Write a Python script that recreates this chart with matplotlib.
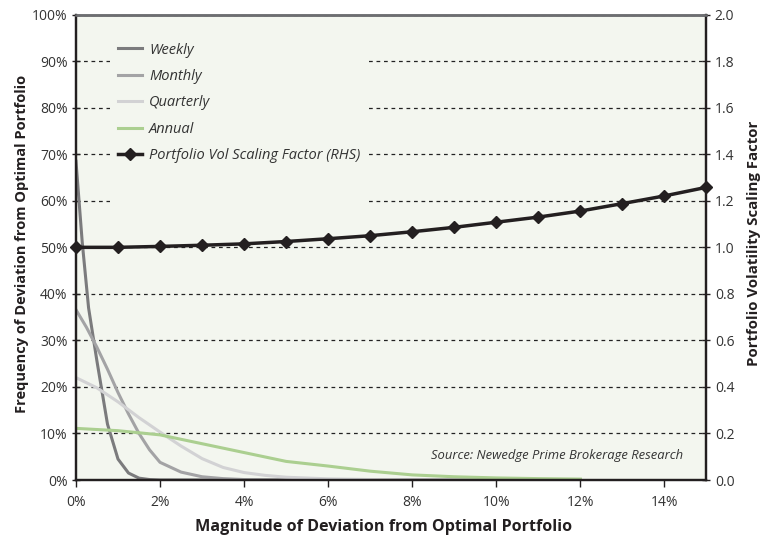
import matplotlib
matplotlib.use("Agg")
import matplotlib.pyplot as plt
from matplotlib.patches import Rectangle
from matplotlib.ticker import FuncFormatter, MultipleLocator

plt.rcParams['font.family'] = ['Open Sans', 'DejaVu Sans']

# frequency curves (x in %, y in %)
weekly_x = [0, 0.15, 0.3, 0.5, 0.75, 1.0, 1.25, 1.5, 1.75, 2, 12]
weekly_y = [68.5, 51, 37, 25.5, 12, 4.5, 1.5, 0.4, 0.1, 0, 0]

monthly_x = [0, 0.25, 0.5, 0.75, 1.0, 1.25, 1.5, 1.75, 2.0, 2.5, 3.0, 3.5, 4, 5, 12]
monthly_y = [36.6, 32.8, 28.5, 23.8, 18.8, 14.2, 10.0, 6.5, 3.8, 1.7, 0.7, 0.3, 0.1, 0, 0]

quarterly_x = [0, 0.5, 1, 1.5, 2, 2.5, 3, 3.5, 4, 4.5, 5, 6, 7, 8, 12]
quarterly_y = [22, 19.8, 16.8, 13.4, 10.3, 7.3, 4.6, 2.7, 1.6, 1.0, 0.6, 0.25, 0.1, 0.03, 0]

annual_x = [0, 1, 2, 3, 4, 5, 6, 7, 8, 9, 10, 11, 12]
annual_y = [11.1, 10.6, 9.7, 7.8, 5.9, 4.0, 3.0, 1.9, 1.1, 0.7, 0.45, 0.3, 0.2]

# portfolio vol scaling factor (RHS)
vol_x = list(range(16))
vol_y = [1.0, 1.0, 1.004, 1.009, 1.015, 1.025, 1.037, 1.050, 1.067, 1.086,
         1.108, 1.130, 1.156, 1.188, 1.221, 1.258]

bg = '#f3f6ef'
txt = '#333333'

fig = plt.figure(figsize=(7.65, 5.43), dpi=100)
ax = fig.add_axes([0.0993, 0.116, 0.8242, 0.857])
ax.set_facecolor(bg)
ax.set_axisbelow(True)

ax.plot(weekly_x, weekly_y, color='#7b7b7d', lw=2.2, label='Weekly', zorder=2)
ax.plot(monthly_x, monthly_y, color='#a3a3a5', lw=2.2, label='Monthly', zorder=2)
ax.plot(quarterly_x, quarterly_y, color='#d2d2d4', lw=2.2, label='Quarterly', zorder=2)
ax.plot(annual_x, annual_y, color='#abcf90', lw=2.2, label='Annual', zorder=2)

ax.set_xlim(0, 15)
ax.set_ylim(0, 100)
ax.xaxis.set_major_locator(MultipleLocator(2))
ax.yaxis.set_major_locator(MultipleLocator(10))
ax.xaxis.set_major_formatter(FuncFormatter(lambda v, p: '%d%%' % v))
ax.yaxis.set_major_formatter(FuncFormatter(lambda v, p: '%d%%' % v))
ax.grid(axis='y', linestyle=(0, (3, 3)), color='#222222', lw=0.9)

# blank area behind the legend hides the gridlines
ax.add_patch(Rectangle((0.054, 0.58), 0.409, 0.39, transform=ax.transAxes,
                       facecolor=bg, edgecolor='none', zorder=1))

ax2 = ax.twinx()
ax2.plot(vol_x, vol_y, color='#231f20', lw=2.5, marker='D', ms=6,
         label='Portfolio Vol Scaling Factor (RHS)', clip_on=False, zorder=5)
ax2.set_ylim(0, 2.0)
ax2.yaxis.set_major_locator(MultipleLocator(0.2))
ax2.yaxis.set_major_formatter(FuncFormatter(lambda v, p: '%.1f' % v))

for a in (ax, ax2):
    for s in ('left', 'right', 'bottom'):
        a.spines[s].set_color('#231f20')
        a.spines[s].set_linewidth(1.6)
    a.spines['top'].set_color('#6d6e71')
    a.spines['top'].set_linewidth(1.8)
    a.tick_params(direction='inout', length=6, width=1.0, colors='#231f20',
                  labelcolor=txt, labelsize=10)
ax.tick_params(axis='x', direction='out', length=5, pad=6)
ax.tick_params(axis='y', pad=3)
ax2.tick_params(axis='y', pad=3)

h1, l1 = ax.get_legend_handles_labels()
h2, l2 = ax2.get_legend_handles_labels()
leg = ax2.legend(h1 + h2, l1 + l2, loc='upper left', bbox_to_anchor=(0.05, 0.962),
                 frameon=False, handlelength=1.7, handletextpad=0.45,
                 labelspacing=0.78, borderpad=0.2,
                 prop={'style': 'italic', 'size': 10.5})
for t in leg.get_texts():
    t.set_color(txt)

ax2.text(0.963, 0.052, 'Source: Newedge Prime Brokerage Research', transform=ax2.transAxes,
         ha='right', va='center', style='italic', fontsize=9.4, color=txt)

fig.text(0.502, 0.03, 'Magnitude of Deviation from Optimal Portfolio', ha='center',
         va='center', fontsize=11.6, fontweight='bold', color='#231f20')
fig.text(0.029, 0.5515, 'Frequency of Deviation from Optimal Portfolio', rotation=90,
         ha='center', va='center', fontsize=10.5, fontweight='bold', color='#231f20')
fig.text(0.986, 0.5525, 'Portfolio Volatility Scaling Factor', rotation=90,
         ha='center', va='center', fontsize=10.8, fontweight='bold', color='#231f20')

fig.savefig('out.png', dpi=100)
